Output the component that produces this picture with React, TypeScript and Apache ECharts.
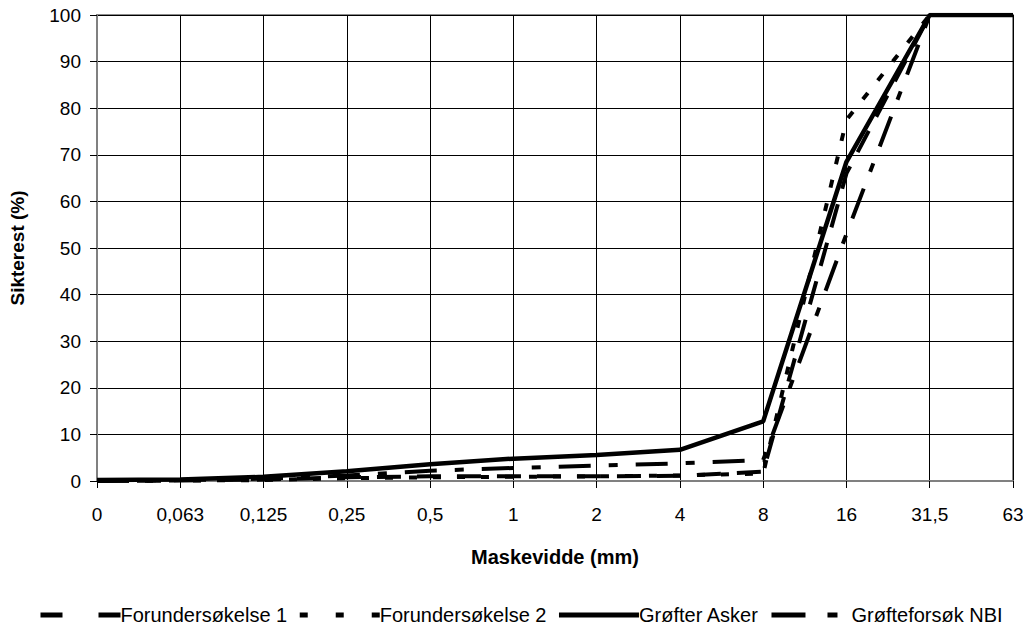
import React, { useEffect, useRef } from "react";
import * as echarts from "echarts";

// Sieve sizes (mm) along the category axis
const sieveSizes = ["0", "0,063", "0,125", "0,25", "0,5", "1", "2", "4", "8", "16", "31,5", "63"];

// Cumulative passing (%) per sample
const forundersokelse1 = [0, 0.1, 0.3, 0.8, 1.0, 1.0, 1.0, 1.1, 2.0, 66, 100, 100];
const forundersokelse2 = [0, 0.1, 0.2, 0.6, 0.8, 0.9, 1.0, 1.2, 1.6, 77.5, 100, 100];
const grofterAsker = [0.2, 0.3, 0.9, 2.1, 3.6, 4.8, 5.6, 6.7, 12.8, 68.5, 100, 100];
const grofteforsokNBI = [0, 0.2, 0.5, 1.2, 2.2, 2.8, 3.3, 3.8, 4.5, 53, 100, 100];

const seriesNames = ["Forundersøkelse 1", "Forundersøkelse 2", "Grøfter Asker", "Grøfteforsøk NBI"];

const FONT = "'Liberation Sans', Arial, sans-serif";

export default function App() {
  const ref = useRef<HTMLDivElement>(null);

  useEffect(() => {
    if (!ref.current) return;
    const chart = echarts.init(ref.current, null, { renderer: "svg" });

    const line = (name: string, data: number[], dash: number[] | "solid", width: number) => ({
      name,
      type: "line",
      data,
      symbol: "none",
      showSymbol: false,
      lineStyle: { color: "#000", width, type: dash },
      itemStyle: { color: "#000" },
    });

    // Legend swatches use a wider dash rhythm than the plotted lines
    const legendDashes: (number[] | "solid")[] = [[22, 36], [8, 28], "solid", [34, 22, 10, 14]];

    chart.setOption({
      animation: false,
      backgroundColor: "#fff",
      textStyle: { fontFamily: FONT },
      grid: {
        left: 97,
        right: 18,
        top: 15,
        bottom: 149,
        show: true,
        borderColor: "#8c8c8c",
        borderWidth: 2,
      },
      legend: {
        data: seriesNames.map((name, i) => ({
          name,
          lineStyle: { type: legendDashes[i], width: 5, color: "#000" },
        })),
        top: 600,
        left: 33,
        itemWidth: 80,
        itemHeight: 14,
        itemGap: 10,
        itemStyle: { opacity: 0 },
        lineStyle: { width: 5 },
        textStyle: { fontFamily: FONT, fontSize: 20, color: "#000", padding: [0, 0, 0, -5] },
      },
      xAxis: {
        type: "category",
        data: sieveSizes,
        boundaryGap: false,
        name: "Maskevidde (mm)",
        nameLocation: "middle",
        nameGap: 66,
        nameTextStyle: { fontFamily: FONT, fontSize: 20, fontWeight: "bold", color: "#000" },
        axisLine: { lineStyle: { color: "#808080", width: 2 } },
        axisTick: { show: true, alignWithLabel: true, length: 7, lineStyle: { color: "#000" } },
        axisLabel: { fontFamily: FONT, fontSize: 19, color: "#000", margin: 24, interval: 0 },
        splitLine: { show: true, lineStyle: { color: "#000", width: 1 } },
      },
      yAxis: {
        type: "value",
        min: 0,
        max: 100,
        interval: 10,
        name: "Sikterest (%)",
        nameLocation: "middle",
        nameGap: 70,
        nameTextStyle: { fontFamily: FONT, fontSize: 19, fontWeight: "bold", color: "#000" },
        axisLine: { show: true, lineStyle: { color: "#808080", width: 2 } },
        axisTick: { show: true, length: 7, lineStyle: { color: "#000" } },
        axisLabel: { fontFamily: FONT, fontSize: 19, color: "#000", margin: 16 },
        splitLine: { show: true, lineStyle: { color: "#000", width: 1 } },
      },
      series: [
        line(seriesNames[0], forundersokelse1, [24, 16], 4),
        line(seriesNames[1], forundersokelse2, [8, 16], 4),
        line(seriesNames[2], grofterAsker, "solid", 4.5),
        line(seriesNames[3], grofteforsokNBI, [32, 18, 9, 18], 4),
      ],
    });

    return () => chart.dispose();
  }, []);

  return <div ref={ref} style={{ width: 1031, height: 630, margin: -8 }} />;
}
